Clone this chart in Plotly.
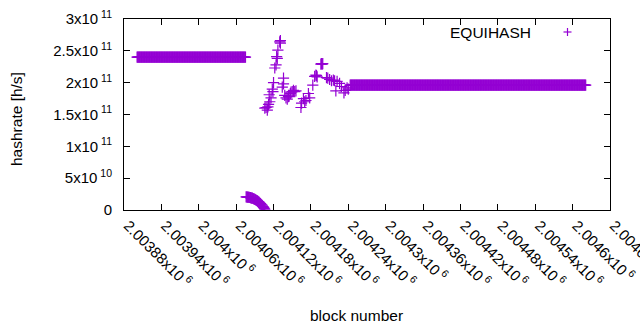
import plotly.graph_objects as go

# ---------------- data ----------------
plateau_first_block = 2003901
plateau_last_block = 2004075
plateau_value = 2.40e11

decay_blocks = list(range(2004076, 2004107))
decay_values = [2.05e10, 2.04e10, 2.03e10, 2.02e10, 2.00e10, 1.98e10, 1.96e10, 1.94e10,
                1.91e10, 1.88e10, 1.85e10, 1.81e10, 1.77e10, 1.72e10, 1.67e10, 1.61e10,
                1.55e10, 1.49e10, 1.42e10, 1.35e10, 1.28e10, 1.19e10, 1.10e10, 1.00e10,
                0.90e10, 0.79e10, 0.67e10, 0.54e10, 0.40e10, 0.26e10, 0.12e10]

cluster_blocks = [2004106, 2004108, 2004110, 2004111, 2004112, 2004113, 2004114, 2004116,
                  2004118, 2004119, 2004120, 2004122, 2004124, 2004125, 2004126, 2004127,
                  2004130, 2004131, 2004131, 2004134, 2004136, 2004136, 2004138, 2004140,
                  2004142, 2004144, 2004145, 2004147, 2004148, 2004150, 2004152, 2004154,
                  2004156, 2004164, 2004165, 2004168, 2004170, 2004172, 2004176, 2004178,
                  2004183, 2004186, 2004188, 2004189, 2004190, 2004196, 2004197, 2004198,
                  2004199, 2004205, 2004207, 2004210, 2004213, 2004216, 2004218, 2004220,
                  2004222, 2004226, 2004229, 2004233, 2004235, 2004238, 2004240]
cluster_values = [1.60e11, 1.61e11, 1.57e11, 1.62e11, 1.66e11, 1.81e11, 1.70e11, 1.76e11,
                  1.90e11, 1.86e11, 2.00e11, 2.23e11, 2.28e11, 2.41e11, 2.38e11, 2.51e11,
                  2.64e11, 2.66e11, 2.62e11, 1.93e11, 2.07e11, 1.98e11, 1.80e11, 1.76e11,
                  1.74e11, 1.78e11, 1.79e11, 1.83e11, 1.85e11, 1.86e11, 1.88e11, 1.86e11,
                  1.87e11, 1.61e11, 1.68e11, 1.75e11, 1.70e11, 1.72e11, 1.83e11, 1.76e11,
                  1.96e11, 2.10e11, 2.12e11, 2.11e11, 2.09e11, 2.29e11, 2.30e11, 2.29e11,
                  2.30e11, 2.08e11, 2.07e11, 2.05e11, 2.03e11, 2.04e11, 2.03e11, 1.87e11,
                  2.02e11, 1.99e11, 1.94e11, 1.84e11, 1.88e11, 1.92e11, 1.90e11]

tail_first_block = 2004243
tail_last_block = 2004621
tail_value = 1.96e11

x_tick_values = [2003880, 2003940, 2004000, 2004060, 2004120, 2004180, 2004240,
                 2004300, 2004360, 2004420, 2004480, 2004540, 2004600, 2004660]
x_tick_labels = ["2.00388x10<sup> 6</sup>", "2.00394x10<sup> 6</sup>", "2.004x10<sup> 6</sup>",
                 "2.00406x10<sup> 6</sup>", "2.00412x10<sup> 6</sup>", "2.00418x10<sup> 6</sup>",
                 "2.00424x10<sup> 6</sup>", "2.0043x10<sup> 6</sup>", "2.00436x10<sup> 6</sup>",
                 "2.00442x10<sup> 6</sup>", "2.00448x10<sup> 6</sup>", "2.00454x10<sup> 6</sup>",
                 "2.0046x10<sup> 6</sup>", "2.00466x10<sup> 6</sup>"]
y_tick_values = [0, 5e10, 1e11, 1.5e11, 2e11, 2.5e11, 3e11]
y_tick_labels = ["0", "5x10<sup> 10</sup>", "1x10<sup> 11</sup>", "1.5x10<sup> 11</sup>",
                 "2x10<sup> 11</sup>", "2.5x10<sup> 11</sup>", "3x10<sup> 11</sup>"]

series_name = "EQUIHASH"

# ---------------- assemble ----------------
plateau_blocks = list(range(plateau_first_block, plateau_last_block + 1))
tail_blocks = list(range(tail_first_block, tail_last_block + 1))
blocks = plateau_blocks + decay_blocks + cluster_blocks + tail_blocks
values = ([plateau_value] * len(plateau_blocks) + decay_values + cluster_values
          + [tail_value] * len(tail_blocks))

PURPLE = "#9400d3"
FONT = "Liberation Sans, Arial, sans-serif"
TICK_SIZE = 15
LABEL_SIZE = 15.5

fig = go.Figure()
fig.add_trace(go.Scatter(
    x=blocks, y=values, mode="markers", name=series_name, showlegend=False,
    marker=dict(symbol="cross-thin-open", size=8, color=PURPLE,
                line=dict(color=PURPLE, width=1.2)),
))

axis_common = dict(showline=True, linecolor="black", linewidth=1, mirror="allticks",
                   ticks="inside", ticklen=6, tickcolor="black", showgrid=False,
                   zeroline=False, automargin=False,
                   tickfont=dict(family=FONT, size=TICK_SIZE, color="black"))

fig.update_xaxes(range=[2003880, 2004660], tickmode="array", tickvals=x_tick_values,
                 ticktext=x_tick_labels, tickangle=45, ticklabelshift=4,
                 ticklabeloverflow="allow", **axis_common)
fig.update_yaxes(range=[0, 3e11], tickmode="array", tickvals=y_tick_values,
                 ticktext=y_tick_labels, ticklabelstandoff=8, **axis_common)

L, R, T, B = 124, 30, 19, 120
pw = 640 - L - R
ph = 330 - T - B


def px(x):
    return (x - L) / pw


def py(y):
    return (330 - B - y) / ph


fig.add_annotation(text="hashrate [h/s]", xref="paper", yref="paper", x=px(16), y=py(119),
                   textangle=-90, showarrow=False, xanchor="center", yanchor="middle",
                   font=dict(family=FONT, size=LABEL_SIZE, color="black"))
fig.add_annotation(text="block number", xref="paper", yref="paper", x=px(356), y=py(315),
                   showarrow=False, xanchor="center", yanchor="middle",
                   font=dict(family=FONT, size=LABEL_SIZE, color="black"))
fig.add_annotation(text=series_name, xref="paper", yref="paper", x=px(533), y=py(32),
                   showarrow=False, xanchor="right", yanchor="middle",
                   font=dict(family=FONT, size=LABEL_SIZE, color="black"))
# legend sample symbol
fig.add_shape(type="line", xref="paper", yref="paper", x0=px(563.5), x1=px(571.5),
              y0=py(32), y1=py(32), line=dict(color=PURPLE, width=1.2))
fig.add_shape(type="line", xref="paper", yref="paper", x0=px(567.5), x1=px(567.5),
              y0=py(28), y1=py(36), line=dict(color=PURPLE, width=1.2))

fig.update_layout(width=640, height=330, margin=dict(l=L, r=R, t=T, b=B),
                  paper_bgcolor="white", plot_bgcolor="white", showlegend=False,
                  template="none", font=dict(family=FONT, size=TICK_SIZE, color="black"))

fig.write_html("out.html", config={"displayModeBar": False},
               post_script="document.body.style.margin='0';")
